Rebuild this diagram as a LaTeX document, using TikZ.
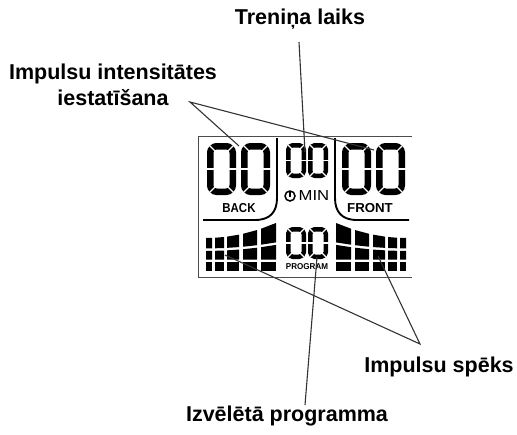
\documentclass[tikz,border=0pt]{standalone}
\usepackage{fontspec}
\setmainfont{Liberation Sans}
\newcommand\lcdzero[5]{%
 \begin{scope}[shift={(#1,#2)}]
  \draw[line width=#5pt, rounded corners=#5pt] ({#5/2},{#5/2}) rectangle ({#3-#5/2},{#4-#5/2});
  \draw[white, line width=0.42*#5pt] (-1,{#4/2}) -- ({#3+1},{#4/2});
  \foreach \cx/\cy/\dx/\dy in {0/0/1/1, #3/0/-1/1, 0/#4/1/-1, #3/#4/-1/-1}
    \draw[white, line width=1.1pt] ({\cx+(\dx)*0.3},{\cy+(\dy)*0.3}) -- ({\cx+(\dx)*(#5+1.5)},{\cy+(\dy)*(#5+1.5)});
 \end{scope}}
\newcommand\cellpair[4]{%
 \fill (#1,{#3(#1)}) -- (#2,{#3(#2)}) -- (#2,{#4(#2)}) -- (#1,{#4(#1)}) -- cycle;
 \fill ({612-#1},{#3(#1)}) -- ({612-#2},{#3(#2)}) -- ({612-#2},{#4(#2)}) -- ({612-#1},{#4(#1)}) -- cycle;}
\begin{document}
\begin{tikzpicture}[x=1pt,y=-1pt,
  lbl/.style={font=\bfseries\fontsize{21.5}{26}\selectfont, inner sep=0pt, align=center},
  lead/.style={draw=black!80, line width=1.1pt},
  framel/.style={draw=black!70, line width=0.9pt},
  sepl/.style={draw=black, line width=1.9pt},
  lcdtxt/.style={font=\bfseries\fontsize{13}{13}\selectfont, inner sep=0pt},
  declare function={HH(\x)=33+15*((\x-206)/70)*((\x-206)/70);
    yA(\x)=271+0*\x; yB(\x)=262+0*\x; yC(\x)=259.5+0*\x;
    yD(\x)=259.5-0.4*(HH(\x)-11.5); yE(\x)=yD(\x)-2.5; yF(\x)=271-HH(\x);}]
\useasboundingbox (0,0) rectangle (517,434);
% labels
\node[lbl] (tren) at (300,19) {Treniņa laiks};
\node[lbl] (intens) at (113,85) {Impulsu intensitātes\\iestatīšana};
\node[lbl] (speks) at (439,367) {Impulsu spēks};
\node[lbl] (izv) at (287,416) {Izvēlētā programma};
% frame
\draw[framel] (412,136) -- (198,136) -- (198,277) -- (412,277);
% separators
\draw[sepl] (277,138) -- (277,198) .. controls (277,212) and (270,220) .. (255,220) -- (203,220);
\draw[sepl] (335,138) -- (335,198) .. controls (335,212) and (342,220) .. (357,220) -- (409,220);
% digits
\lcdzero{207}{143}{29}{52}{6.5}
\lcdzero{241}{143}{29}{52}{6.5}
\lcdzero{342}{143}{29}{52}{6.5}
\lcdzero{376}{143}{29}{52}{6.5}
\lcdzero{286}{143}{20}{35}{4.5}
\lcdzero{308}{143}{20}{35}{4.5}
\lcdzero{286}{227}{20}{32}{4.5}
\lcdzero{308}{227}{20}{32}{4.5}
% lcd texts
\node[lcdtxt] (back) at (239,208) {\scalebox{0.88}[1]{BACK}};
\node[lcdtxt] (front) at (370,208) {\scalebox{1.02}[1]{FRONT}};
\node[lcdtxt, font=\bfseries\fontsize{8.5}{8.5}\selectfont] (prog) at (307,267) {\scalebox{0.95}[1]{PROGRAM}};
\node[inner sep=0pt, font=\fontsize{14.5}{14.5}\selectfont] (min) at (314,196) {\scalebox{1.15}[1]{MIN}};
\draw[line width=1.5pt] (290,196) circle[radius=5];
\draw[line width=1.3pt] (290,191.5) -- (290,196.5);
% bar graph
\foreach \xa/\xb in {206/212,215/224,227/239,243/257,261/276}{
  \cellpair{\xa}{\xb}{yA}{yB}
  \cellpair{\xa}{\xb}{yC}{yD}
  \cellpair{\xa}{\xb}{yE}{yF}
}
% connectors
\coordinate (trenA) at (299,42);
\coordinate (trenB) at (305,152);
\draw[lead] (trenA) -- (trenB);
\coordinate (intA) at (190,102);
\coordinate (intB) at (239,146);
\coordinate (intC) at (374,150);
\draw[lead] (intB) -- (intA) -- (intC);
\coordinate (spA) at (420,344);
\coordinate (spB) at (225,255);
\coordinate (spC) at (378,256);
\draw[lead] (spB) -- (spA) -- (spC);
\coordinate (izA) at (305,405);
\coordinate (izB) at (317,257);
\draw[lead] (izA) -- (izB);
\end{tikzpicture}
\end{document}
